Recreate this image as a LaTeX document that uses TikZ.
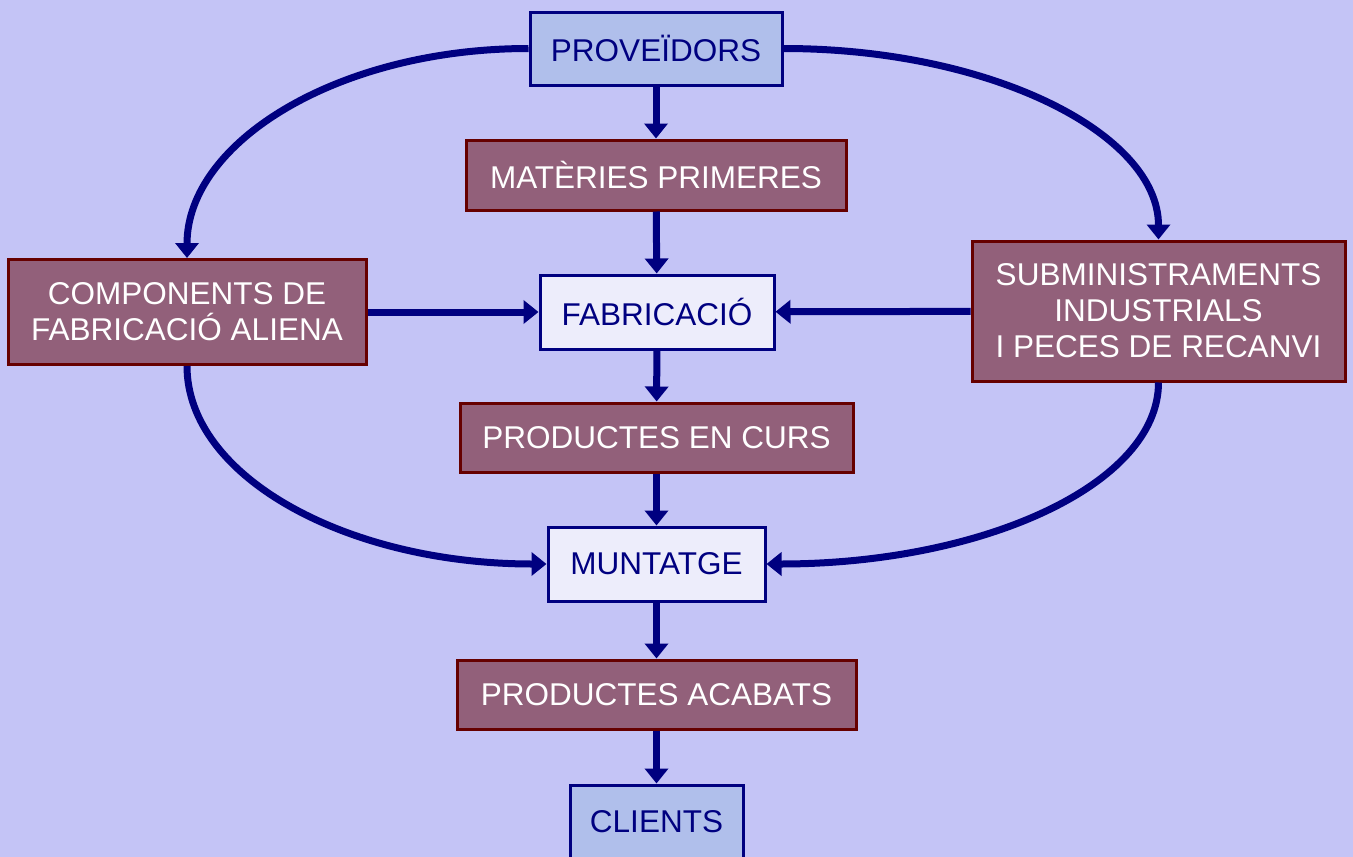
\documentclass[tikz,border=0pt]{standalone}
\usepackage{fontspec}
\setmainfont{Liberation Sans}
\usetikzlibrary{arrows.meta}
\definecolor{bgcol}{RGB}{196,196,246}
\definecolor{navy}{RGB}{0,0,128}
\definecolor{mauve}{RGB}{146,96,122}
\definecolor{maroon}{RGB}{102,0,0}
\definecolor{paleblue}{RGB}{176,191,235}
\definecolor{paleline}{RGB}{237,237,251}

\begin{document}
\begin{tikzpicture}[x=1pt, y=-1pt,
  box/.style={draw, line width=3pt, inner sep=0pt, align=center,
    font=\fontsize{31.5}{36}\selectfont},
  ext/.style={box, draw=navy, fill=paleblue, text=navy},
  dept/.style={box, draw=navy, fill=paleline, text=navy},
  store/.style={box, draw=maroon, fill=mauve, text=white},
  flow/.style={draw=navy, line width=7pt, -{Triangle[width=23pt, length=15pt]}}]
\fill[bgcol] (0,0) rectangle (1353,857);
\useasboundingbox (0,0) rectangle (1353,857);
\node[ext, minimum width=252, minimum height=73] (prov) at (656,48.5) {PROVEÏDORS};
\node[store, minimum width=380, minimum height=70] (mat) at (656,175) {MATÈRIES PRIMERES};
\node[dept, minimum width=234, minimum height=74] (fab) at (657,312) {FABRICACIÓ};
\node[store, minimum width=358, minimum height=105] (comp) at (187,312) {COMPONENTS DE\\FABRICACIÓ ALIENA};
\node[store, minimum width=373, minimum height=140] (sub) at (1158.5,311) {SUBMINISTRAMENTS\\INDUSTRIALS\\I PECES DE RECANVI};
\node[store, minimum width=393, minimum height=69] (curs) at (656.5,437.5) {PRODUCTES EN CURS};
\node[dept, minimum width=217, minimum height=74] (munt) at (656.5,564) {MUNTATGE};
\node[store, minimum width=399, minimum height=69] (acab) at (656.5,694.5) {PRODUCTES ACABATS};
\node[ext, minimum width=173, minimum height=74] (cli) at (656.5,822) {CLIENTS};
\draw[flow] (prov) -- (mat);
\draw[flow] (mat) -- (fab);
\draw[flow] (comp) -- (fab);
\draw[flow] (sub) -- (fab);
\draw[flow] (fab) -- (curs);
\draw[flow] (curs) -- (munt);
\draw[flow] (munt) -- (acab);
\draw[flow] (acab) -- (cli);
\draw[flow] (prov.west) .. controls +(-190,0) and +(0,-116) .. (comp.north);
\draw[flow] (prov.east) .. controls +(207,0) and +(0,-106) .. (sub.north);
\draw[flow] (comp.south) .. controls +(0,111) and +(-199,0) .. (munt.west);
\draw[flow] (sub.south) .. controls +(0,102) and +(216,0) .. (munt.east);
\end{tikzpicture}
\end{document}
